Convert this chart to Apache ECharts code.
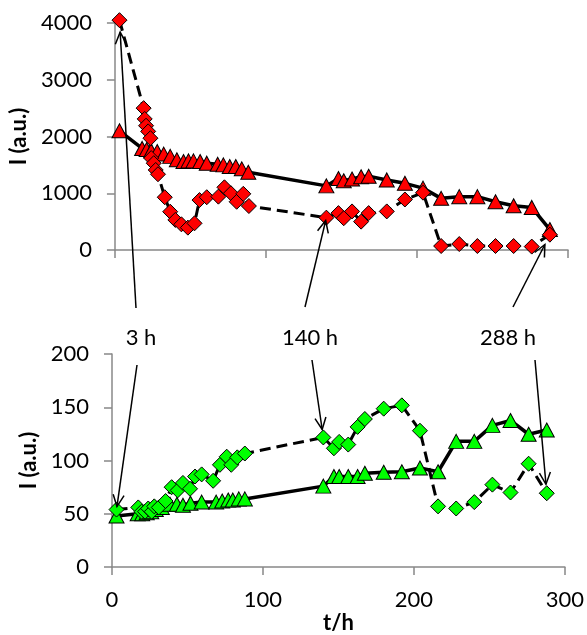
<!DOCTYPE html>
<html>
<head>
<meta charset="utf-8">
<script src="https://cdn.jsdelivr.net/npm/echarts@6/dist/echarts.min.js"></script>
<style>
html, body { margin: 0; padding: 0; background: #fff; }
#main { width: 587px; height: 635px; }
</style>
</head>
<body>
<div id="main"></div>
<script>
// top panel, red
var redDiamondT = [3, 19, 19.7, 20.6, 22, 23.5, 24, 25.7, 27, 28.5, 33, 36.6, 40, 44, 48.3, 52.7, 56, 60.8, 68.5, 72.5, 76.8, 80.6, 85, 88.7,
	140, 148, 151.5, 157, 163, 168, 180, 192, 204, 216, 228, 240, 252, 264, 276, 288];
var redDiamondI = [4050, 2500, 2310, 2190, 2090, 1970, 1620, 1530, 1410, 1335, 930, 675, 530, 453, 394, 470, 880, 930, 940, 1105, 1000, 850, 990, 775,
	570, 650, 560, 680, 500, 650, 680, 890, 1010, 70, 105, 70, 70, 70, 60, 270];
var redTriangleT = [3, 18, 21, 24, 28, 32.3, 36.6, 41, 45.4, 48.7, 52, 56.4, 60.8, 68, 71.8, 76, 80, 84, 88.3,
	140, 148, 151.5, 157, 163, 168, 180, 192, 204, 216, 228, 240, 252, 264, 276, 288];
var redTriangleI = [2100, 1790, 1770, 1750, 1735, 1690, 1650, 1590, 1560, 1570, 1570, 1560, 1530, 1510, 1500, 1470, 1470, 1430, 1370,
	1130, 1260, 1220, 1250, 1290, 1300, 1235, 1175, 1090, 910, 940, 940, 850, 780, 750, 360];

// bottom panel, green
var greenDiamondT = [3, 17.4, 19.6, 21.9, 24, 26.3, 28, 31, 35.5, 39.5, 43.5, 47, 51.7, 55, 59.4, 67, 71.5, 76, 79, 83, 88,
	140, 147, 150.5, 156.5, 162.7, 167.5, 180, 192, 204, 216, 228, 240, 252, 264, 276, 288];
var greenDiamondI = [54, 56, 52, 52, 55, 52, 57, 56, 62, 75, 72, 79, 73.5, 85, 87, 81, 96, 103.6, 96, 103, 106.6,
	121.7, 111.5, 117.5, 115, 131.6, 139, 148.7, 151.8, 128, 57, 55, 61, 77.4, 70, 97, 69.3];
var greenTriangleT = [3, 17, 20, 23, 26, 29, 33, 38.4, 43, 47, 52, 59.4, 69, 73, 77, 80, 84, 88,
	140, 147, 150.5, 156.5, 162.7, 167.5, 180, 192, 204, 216, 228, 240, 252, 264, 276, 288];
var greenTriangleI = [48, 50, 50, 51, 52, 54, 56, 59, 59, 58, 60, 61, 61, 62, 63, 63, 64, 64,
	76, 85, 85, 85, 85, 88, 89, 89.5, 93, 89.5, 118, 118, 133, 137.6, 124.7, 128.6];

// annotated times
var markHours = [3, 140, 288];
var markLabels = ['3 h', '140 h', '288 h'];

var FONT = 'Lato, "Open Sans", sans-serif';
var axisGray = '#888888';

var pairs = function(xs, ys) {
	var out = [];
	for (var i = 0; i < xs.length; i++) out.push([xs[i], ys[i]]);
	return out;
};

var xAxisOpt = function(idx, showLabel) {
	return {
		type: 'value', gridIndex: idx, min: 0, max: 300, interval: 100,
		axisLine: { show: true, onZero: false, lineStyle: { color: axisGray, width: 1.5 } },
		axisTick: { show: true, length: 8, lineStyle: { color: axisGray, width: 1.5 } },
		splitLine: { show: false },
		axisLabel: { show: showLabel, color: '#000', fontFamily: FONT, fontSize: 22, margin: 22,
			formatter: function(v) { return String(v); } },
		name: showLabel ? 't/h' : '',
		nameLocation: 'middle', nameGap: 38,
		nameTextStyle: { color: '#000', fontFamily: FONT, fontSize: 22, fontWeight: 'bold' }
	};
};

var yAxisOpt = function(idx, max, interval) {
	return {
		type: 'value', gridIndex: idx, min: 0, max: max, interval: interval,
		axisLine: { show: true, lineStyle: { color: axisGray, width: 1.5 } },
		axisTick: { show: true, length: 8, lineStyle: { color: axisGray, width: 1.5 } },
		splitLine: { show: false },
		axisLabel: { color: '#000', fontFamily: FONT, fontSize: 22, margin: 23,
			formatter: function(v) { return String(v); } },
		name: 'I (a.u.)', nameLocation: 'middle', nameGap: 70,
		nameTextStyle: { color: '#000', fontFamily: FONT, fontSize: 22, fontWeight: 'bold' }
	};
};

var seriesOpt = function(idx, data, symbol, size, fill, dashed) {
	return {
		type: 'line', xAxisIndex: idx, yAxisIndex: idx, data: data,
		symbol: symbol, symbolSize: size, showAllSymbol: true, clip: false,
		itemStyle: { color: fill, borderColor: '#000', borderWidth: 1 },
		lineStyle: { color: '#000', width: dashed ? 3 : 3.5, type: dashed ? [11, 6] : 'solid' },
		animation: false, z: dashed ? 3 : 2
	};
};

var chart = echarts.init(document.getElementById('main'), null, { renderer: 'canvas' });
chart.setOption({
	backgroundColor: '#fff',
	animation: false,
	grid: [
		{ left: 113, top: 23, width: 455, height: 227 },
		{ left: 112, top: 354, width: 453, height: 222 }
	],
	xAxis: [xAxisOpt(0, false), xAxisOpt(1, true)],
	yAxis: [yAxisOpt(0, 4000, 1000), yAxisOpt(1, 200, 50)],
	series: [
		seriesOpt(0, pairs(redTriangleT, redTriangleI), 'triangle', [15, 14], '#ff0000', false),
		seriesOpt(0, pairs(redDiamondT, redDiamondI), 'diamond', 15, '#ff0000', true),
		seriesOpt(1, pairs(greenTriangleT, greenTriangleI), 'triangle', [15, 14], '#00ff00', false),
		seriesOpt(1, pairs(greenDiamondT, greenDiamondI), 'diamond', 15, '#00ff00', true)
	]
});

// arrows: label in between, one arrow up to the red point and one down to the green point
var labelPos = [[141, 338], [310, 338], [508, 338]];
var tailUp = [[136, 308], [305, 307], [513, 307]];
var tailDown = [[137, 365], [312, 360], [535, 360]];
var gapUp = [12, 3, 11];
var gapDown = [3, 8, 9];

var arrow = function(tail, target, gap) {
	var dx = tail[0] - target[0], dy = tail[1] - target[1];
	var len = Math.sqrt(dx * dx + dy * dy);
	var ux = dx / len, uy = dy / len;
	var tip = [target[0] + ux * gap, target[1] + uy * gap];
	var hl = 13, ang = 25 * Math.PI / 180;
	var c = Math.cos(ang), s = Math.sin(ang);
	var p1 = [tip[0] + hl * (ux * c - uy * s), tip[1] + hl * (uy * c + ux * s)];
	var p2 = [tip[0] + hl * (ux * c + uy * s), tip[1] + hl * (uy * c - ux * s)];
	return [{
		type: 'line', shape: { x1: tail[0], y1: tail[1], x2: tip[0], y2: tip[1] },
		style: { stroke: '#000', lineWidth: 1.5 }, z: 10
	}, {
		type: 'polyline', shape: { points: [p1, tip, p2] },
		style: { stroke: '#000', lineWidth: 1.5, fill: null }, z: 10
	}];
};

var graphics = [];
for (var i = 0; i < markHours.length; i++) {
	var iu = redDiamondT.indexOf(markHours[i]);
	var id = greenDiamondT.indexOf(markHours[i]);
	var up = chart.convertToPixel({ gridIndex: 0 }, [redDiamondT[iu], redDiamondI[iu]]);
	var down = chart.convertToPixel({ gridIndex: 1 }, [greenDiamondT[id], greenDiamondI[id]]);
	graphics = graphics.concat(arrow(tailUp[i], up, gapUp[i]), arrow(tailDown[i], down, gapDown[i]));
	graphics.push({
		type: 'text', x: labelPos[i][0], y: labelPos[i][1], z: 11,
		style: { text: markLabels[i], font: '22px ' + FONT, fill: '#000', align: 'center', verticalAlign: 'middle' }
	});
}
chart.setOption({ graphic: graphics });
</script>
</body>
</html>
